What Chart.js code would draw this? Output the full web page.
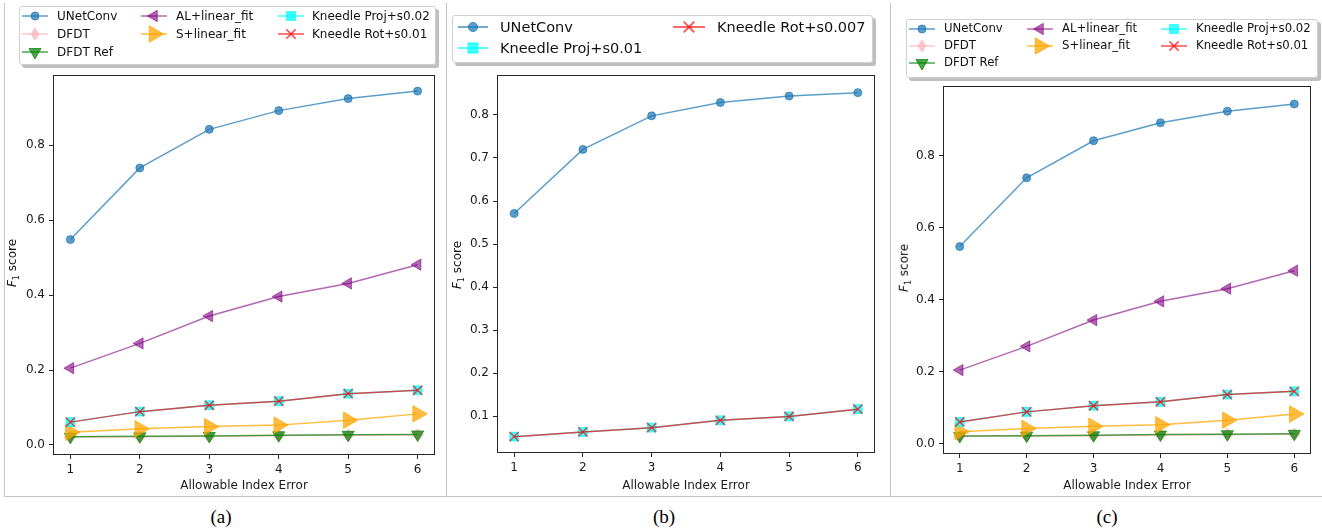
<!DOCTYPE html>
<html><head><meta charset="utf-8">
<script src="https://cdn.jsdelivr.net/npm/chart.js@4.4.0/dist/chart.umd.min.js"></script>
<style>
body{margin:0;width:1322px;height:529px;background:#fff;position:relative;overflow:hidden;font-family:"DejaVu Sans",sans-serif;}
canvas{position:absolute;top:0;}
.vline{position:absolute;width:1px;background:#c4c4c4;}
.hline{position:absolute;height:1px;background:#c4c4c4;}
.legend{position:absolute;border:1px solid #d0d0d0;border-radius:3px;background:#fff;box-shadow:3px 3px 0 rgba(0,0,0,0.25);}
.lt{position:absolute;white-space:nowrap;color:#111;transform:translateY(-50%);line-height:1;}
.ls{position:absolute;overflow:visible;}
.ytitle{position:absolute;transform:translate(-50%,-50%) rotate(-90deg);font-size:12px;white-space:nowrap;color:#111;}
.cap{position:absolute;font-family:"Liberation Serif","Times New Roman",serif;font-size:19px;transform:translate(-50%,-50%);color:#000;}
</style></head>
<body>
<canvas id="ca" width="446" height="496" style="left:0px"></canvas>
<canvas id="cb" width="444" height="496" style="left:446px"></canvas>
<canvas id="cc" width="432" height="496" style="left:890px"></canvas>
<div class="vline" style="left:4px;top:3px;height:494px"></div>
<div class="vline" style="left:446px;top:3px;height:494px"></div>
<div class="vline" style="left:890px;top:3px;height:494px"></div>
<div class="hline" style="left:4px;top:496px;width:1318px"></div>
<div class="ytitle" style="left:13px;top:263px"><i>F</i><sub style="font-size:8px">1</sub> score</div>
<div class="ytitle" style="left:458px;top:265px"><i>F</i><sub style="font-size:8px">1</sub> score</div>
<div class="ytitle" style="left:905px;top:268px"><i>F</i><sub style="font-size:8px">1</sub> score</div>
<div class="cap" style="left:221px;top:517px">(a)</div>
<div class="cap" style="left:664px;top:517px">(b)</div>
<div class="cap" style="left:1107px;top:517px">(c)</div>
<script>
// ---------- data ----------
const xValues = [1, 2, 3, 4, 5, 6];
const xTickLabels = ['1', '2', '3', '4', '5', '6'];
const yTicksAC = [0.0, 0.2, 0.4, 0.6, 0.8];
const yTicksB = [0.1, 0.2, 0.3, 0.4, 0.5, 0.6, 0.7, 0.8];

// panel (a) and (c)
const unetA    = [0.548, 0.739, 0.842, 0.892, 0.924, 0.944];
const dfdtA    = [0.021, 0.022, 0.023, 0.025, 0.026, 0.027];
const dfdtRefA = [0.022, 0.023, 0.024, 0.026, 0.027, 0.028];
const alA      = [0.205, 0.271, 0.344, 0.396, 0.431, 0.481];
const sA       = [0.034, 0.043, 0.049, 0.053, 0.066, 0.083];
const projA    = [0.061, 0.089, 0.106, 0.117, 0.137, 0.146];
const rotA     = [0.061, 0.089, 0.106, 0.117, 0.137, 0.146];
// panel (b)
const unetB = [0.571, 0.720, 0.798, 0.829, 0.844, 0.852];
const projB = [0.052, 0.063, 0.073, 0.090, 0.099, 0.116];
const rotB  = [0.052, 0.063, 0.073, 0.090, 0.099, 0.116];

const labelsAC = ['UNetConv', 'DFDT', 'DFDT Ref', 'AL+linear_fit', 'S+linear_fit', 'Kneedle Proj+s0.02', 'Kneedle Rot+s0.01'];
const labelsB = ['UNetConv', 'Kneedle Proj+s0.01', 'Kneedle Rot+s0.007'];

// ---------- styles ----------
const ST = {
  unet: {color:'rgba(31,119,180,0.72)', style:'circle', rot:0, r:4},
  dfdt: {color:'rgba(255,182,193,0.8)', style:'rectRot', rot:0, r:6, thin:true},
  ref:  {color:'rgba(0,128,0,0.7)', style:'triangle', rot:180, r:7},
  al:   {color:'rgba(128,0,128,0.6)', style:'triangle', rot:-90, r:6.5},
  s:    {color:'rgba(255,165,0,0.75)', style:'triangle', rot:90, r:9.5},
  proj: {color:'rgba(0,255,255,0.75)', style:'rect', rot:0, r:6.2},
  rot:  {color:'rgba(255,0,0,0.7)', style:'crossRot', rot:0, r:6.5, lw:1.5}
};

const framePlugin = {id:'frame', afterDraw(c){
  const a = c.chartArea, ctx = c.ctx;
  ctx.save(); ctx.strokeStyle = '#262626'; ctx.lineWidth = 1;
  const l = Math.round(a.left) + 0.5, t = Math.round(a.top) + 0.5;
  const r = Math.round(a.right) - 0.5, b = Math.round(a.bottom) - 0.5;
  ctx.strokeRect(l, t, r - l, b - t);
  ctx.restore();
}};

function makeChart(id, p) {
  const n = p.series.length;
  const datasets = p.series.map((s, i) => ({
    label: s.label,
    data: xValues.map((x, j) => ({x: x, y: s.values[j]})),
    borderColor: s.st.color, backgroundColor: s.st.color,
    borderWidth: 1.5, tension: 0, fill: false,
    pointStyle: s.st.style, pointRotation: s.st.rot, pointRadius: s.st.r,
    pointBackgroundColor: s.st.color, pointBorderColor: s.st.color,
    pointBorderWidth: s.st.lw || 1,
    order: n - i
  }));
  const font = {family: 'DejaVu Sans', size: 12};
  new Chart(document.getElementById(id), {
    type: 'line',
    data: {datasets},
    options: {
      responsive: false, animation: false, events: [],
      layout: {padding: {left: 0, top: p.padT, right: p.padR, bottom: 0}},
      plugins: {legend: {display: false}, tooltip: {enabled: false}},
      scales: {
        x: {
          type: 'linear', min: 0.75, max: 6.25,
          afterBuildTicks: s => { s.ticks = xValues.map(v => ({value: v})); },
          afterFit: s => { s.height = p.xH; },
          grid: {drawOnChartArea: false, drawTicks: true, tickLength: 4, color: '#262626'},
          border: {display: false},
          ticks: {font, color: '#1a1a1a', padding: 4, maxRotation: 0, autoSkip: false,
                  callback: (v) => xTickLabels[xValues.indexOf(v)] ?? ''},
          title: {display: true, text: 'Allowable Index Error', font, color: '#1a1a1a', padding: {top: 0, bottom: 3}}
        },
        y: {
          type: 'linear', min: p.yMin, max: p.yMax,
          afterBuildTicks: s => { s.ticks = p.yTicks.map(v => ({value: v})); },
          afterFit: s => { s.width = p.yW; },
          grid: {drawOnChartArea: false, drawTicks: true, tickLength: 4, color: '#262626'},
          border: {display: false},
          ticks: {font, color: '#1a1a1a', padding: 4, autoSkip: false, callback: v => v.toFixed(1)}
        }
      }
    },
    plugins: [framePlugin]
  });
}

const seriesAC = [
  {label: labelsAC[0], values: unetA, st: ST.unet},
  {label: labelsAC[1], values: dfdtA, st: ST.dfdt},
  {label: labelsAC[2], values: dfdtRefA, st: ST.ref},
  {label: labelsAC[3], values: alA, st: ST.al},
  {label: labelsAC[4], values: sA, st: ST.s},
  {label: labelsAC[5], values: projA, st: ST.proj},
  {label: labelsAC[6], values: rotA, st: ST.rot}
];
const seriesB = [
  {label: labelsB[0], values: unetB, st: ST.unet},
  {label: labelsB[1], values: projB, st: ST.proj},
  {label: labelsB[2], values: rotB, st: ST.rot}
];

makeChart('ca', {series: seriesAC, padT: 75, padR: 11, xH: 41, yW: 53, yMin: -0.0267, yMax: 0.987, yTicks: yTicksAC});
makeChart('cb', {series: seriesB, padT: 75, padR: 15, xH: 43, yW: 51, yMin: 0.014, yMax: 0.893, yTicks: yTicksB});
makeChart('cc', {series: seriesAC, padT: 86, padR: 11, xH: 42, yW: 53, yMin: -0.028, yMax: 0.994, yTicks: yTicksAC});

// ---------- HTML legends ----------
function markerSVG(st, cx, cy, k) {
  const r = st.r * k, c = st.color;
  const tri = (rotDeg) => {
    let pts = [];
    for (let i = 0; i < 3; i++) {
      const a = (rotDeg + i * 120) * Math.PI / 180;
      pts.push((cx + Math.sin(a) * r).toFixed(2) + ',' + (cy - Math.cos(a) * r).toFixed(2));
    }
    return `<polygon points="${pts.join(' ')}" fill="${c}" stroke="${c}" stroke-width="1"/>`;
  };
  switch (st.style) {
    case 'circle': return `<circle cx="${cx}" cy="${cy}" r="${r}" fill="${c}" stroke="${c}" stroke-width="1"/>`;
    case 'triangle': return tri(st.rot);
    case 'rect': { const h = r * Math.SQRT1_2; return `<rect x="${cx-h}" y="${cy-h}" width="${2*h}" height="${2*h}" fill="${c}" stroke="${c}" stroke-width="1"/>`; }
    case 'rectRot': { const w = st.thin ? r * 0.62 : r; return `<polygon points="${cx-w},${cy} ${cx},${cy-r} ${cx+w},${cy} ${cx},${cy+r}" fill="${c}" stroke="${c}" stroke-width="1"/>`; }
    case 'crossRot': { const h = r * Math.SQRT1_2; return `<path d="M${cx-h},${cy-h}L${cx+h},${cy+h}M${cx-h},${cy+h}L${cx+h},${cy-h}" stroke="${c}" stroke-width="${1.5*k}"/>`; }
  }
  return '';
}

function buildLegend(box, items, fontSize, k) {
  const d = document.createElement('div');
  d.className = 'legend';
  d.style.left = box.x + 'px'; d.style.top = box.y + 'px';
  d.style.width = box.w + 'px'; d.style.height = box.h + 'px';
  document.body.appendChild(d);
  items.forEach(it => {
    const w = it.x1 - it.x0, H = 26;
    const svg = document.createElementNS('http://www.w3.org/2000/svg', 'svg');
    svg.setAttribute('class', 'ls');
    svg.setAttribute('width', w); svg.setAttribute('height', H);
    svg.style.left = it.x0 + 'px'; svg.style.top = (it.y - H / 2) + 'px';
    svg.innerHTML = `<line x1="0" y1="${H/2}" x2="${w}" y2="${H/2}" stroke="${it.st.color}" stroke-width="${1.5*k}"/>` + markerSVG(it.st, w / 2, H / 2, k);
    document.body.appendChild(svg);
    const t = document.createElement('div');
    t.className = 'lt'; t.textContent = it.label;
    t.style.left = it.tx + 'px'; t.style.top = it.y + 'px'; t.style.fontSize = fontSize + 'px';
    document.body.appendChild(t);
  });
}

function legendAC(colX, rows) {
  // colX: [[x0,x1,tx], ...]; column-major layout
  const layout = [[0,0],[0,1],[0,2],[1,0],[1,1],[2,0],[2,1]];
  return seriesAC.map((s, i) => {
    const [c, r] = layout[i];
    return {label: s.label, st: s.st, x0: colX[c][0], x1: colX[c][1], tx: colX[c][2], y: rows[r]};
  });
}

buildLegend({x: 19, y: 6, w: 415, h: 57},
  legendAC([[22, 48, 57], [141, 167, 176], [278, 304, 312]], [16, 34, 52]), 12, 1);
buildLegend({x: 452, y: 15, w: 419, h: 46},
  [{label: labelsB[0], st: ST.unet, x0: 458, x1: 488, tx: 500, y: 27},
   {label: labelsB[1], st: ST.proj, x0: 458, x1: 488, tx: 500, y: 48},
   {label: labelsB[2], st: ST.rot, x0: 673, x1: 705, tx: 717, y: 27}], 14.5, 1.15);
buildLegend({x: 906, y: 19, w: 410, h: 57},
  legendAC([[909, 935, 944], [1027, 1053, 1062], [1161, 1187, 1196]], [29, 46, 63]), 11.7, 1);
</script>
</body></html>
